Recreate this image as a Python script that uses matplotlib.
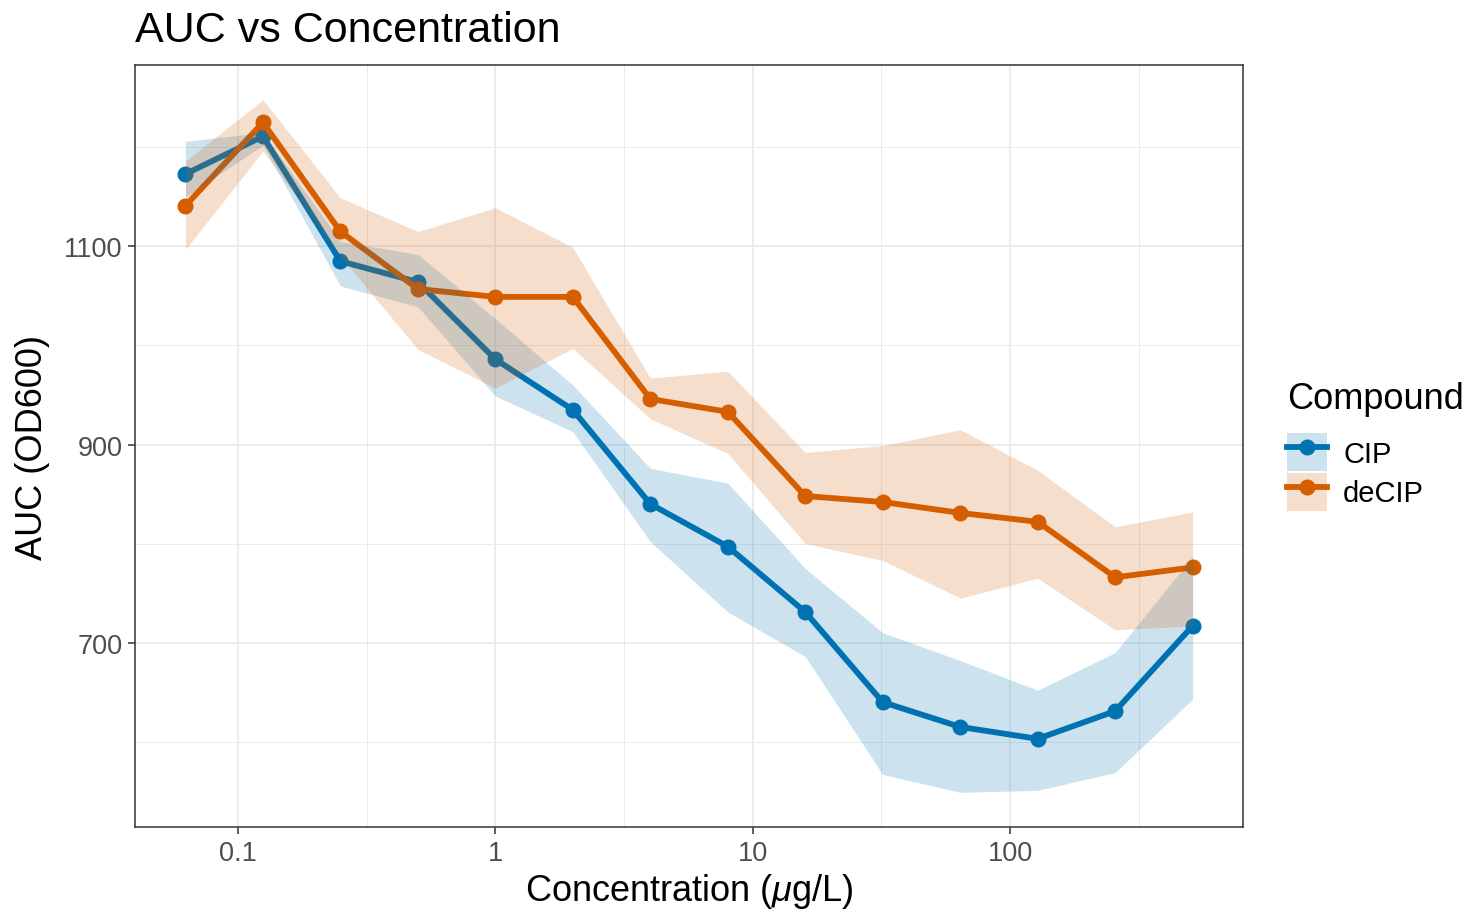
import numpy as np
import matplotlib
matplotlib.use("Agg")
import matplotlib.pyplot as plt
from matplotlib.lines import Line2D
from matplotlib.patches import Patch
from matplotlib.ticker import FixedLocator, NullFormatter

plt.rcParams['font.family'] = ['Liberation Sans', 'DejaVu Sans']
plt.rcParams['mathtext.fontset'] = 'custom'
plt.rcParams['mathtext.rm'] = 'Liberation Sans'
plt.rcParams['mathtext.it'] = 'Liberation Sans:italic'

# Concentrations (two-fold dilution series)
conc = [0.0625, 0.125, 0.25, 0.5, 1, 2, 4, 8, 16, 32, 64, 128, 256, 512]

# CIP: mean AUC and band
cip_mean = [1173, 1211, 1085, 1064, 986, 935, 840, 797, 731, 640, 615, 603, 631, 717]
cip_lo = [1150, 1202, 1060, 1039, 949, 913, 802, 731, 686, 567, 549, 551, 569, 643]
cip_hi = [1206, 1215, 1105, 1092, 1027, 960, 876, 861, 775, 710, 682, 652, 690, 787]

# deCIP: mean AUC and band
decip_mean = [1141, 1225, 1115, 1057, 1049, 1049, 946, 933, 848, 842, 831, 822, 766, 776]
decip_lo = [1097, 1196, 1090, 996, 957, 997, 926, 891, 800, 783, 745, 765, 713, 717]
decip_hi = [1186, 1248, 1149, 1115, 1139, 1099, 967, 974, 892, 899, 915, 874, 817, 832]

compounds = ['CIP', 'deCIP']
colors = ['#0072B2', '#D55E00']
means = [cip_mean, decip_mean]
lows = [cip_lo, decip_lo]
highs = [cip_hi, decip_hi]

fig = plt.figure(figsize=(14.66, 9.12), dpi=100)
ax = fig.add_axes([0.0921, 0.0921, 0.7558, 0.8355])

for name, col, m, lo, hi in zip(compounds, colors, means, lows, highs):
    ax.plot(conc, m, color=col, lw=4.2, marker='o', ms=10.5, zorder=3)
    ax.fill_between(conc, lo, hi, color=col, alpha=0.2, lw=0, zorder=4)

ax.set_xscale('log')
ax.set_xlim(10 ** -1.400, 10 ** 2.905)
ax.set_ylim(514, 1283)

ax.xaxis.set_major_locator(FixedLocator([0.1, 1, 10, 100]))
ax.set_xticklabels(['0.1', '1', '10', '100'])
ax.xaxis.set_minor_locator(FixedLocator([10 ** -0.5, 10 ** 0.5, 10 ** 1.5, 10 ** 2.5]))
ax.xaxis.set_minor_formatter(NullFormatter())
ax.yaxis.set_major_locator(FixedLocator([700, 900, 1100]))
ax.yaxis.set_minor_locator(FixedLocator([600, 800, 1000, 1200]))

ax.grid(which='major', color='#EBEBEB', lw=1.3, zorder=0)
ax.grid(which='minor', color='#EBEBEB', lw=0.7, zorder=0)
ax.set_axisbelow(True)

for s in ax.spines.values():
    s.set_color('#333333')
    s.set_linewidth(1.1)
ax.tick_params(which='major', length=5, width=1.1, color='#333333',
               labelsize=19.5, labelcolor='#4D4D4D', pad=4)
ax.tick_params(which='minor', length=0)

ax.set_xlabel('Concentration ($\\mu$g/L)', fontsize=26, labelpad=4)
ax.set_ylabel('AUC (OD600)', fontsize=26, labelpad=10)
ax.set_title('AUC vs Concentration', fontsize=31, loc='left', pad=17)

handles = []
for col in colors:
    handles.append((Patch(facecolor=col, alpha=0.2, lw=0),
                    Line2D([], [], color=col, lw=4.2, marker='o', ms=10.5)))
leg = fig.legend(handles, compounds, title='Compound', loc='upper left',
                 bbox_to_anchor=(0.878, 0.581), frameon=False, fontsize=21,
                 title_fontsize=26, handlelength=1.37, handleheight=1.65,
                 labelspacing=0.05, handletextpad=0.55, borderaxespad=0,
                 borderpad=0)
leg._legend_box.align = 'left'
leg._legend_box.sep = 12

fig.savefig('out.png', dpi=100)
